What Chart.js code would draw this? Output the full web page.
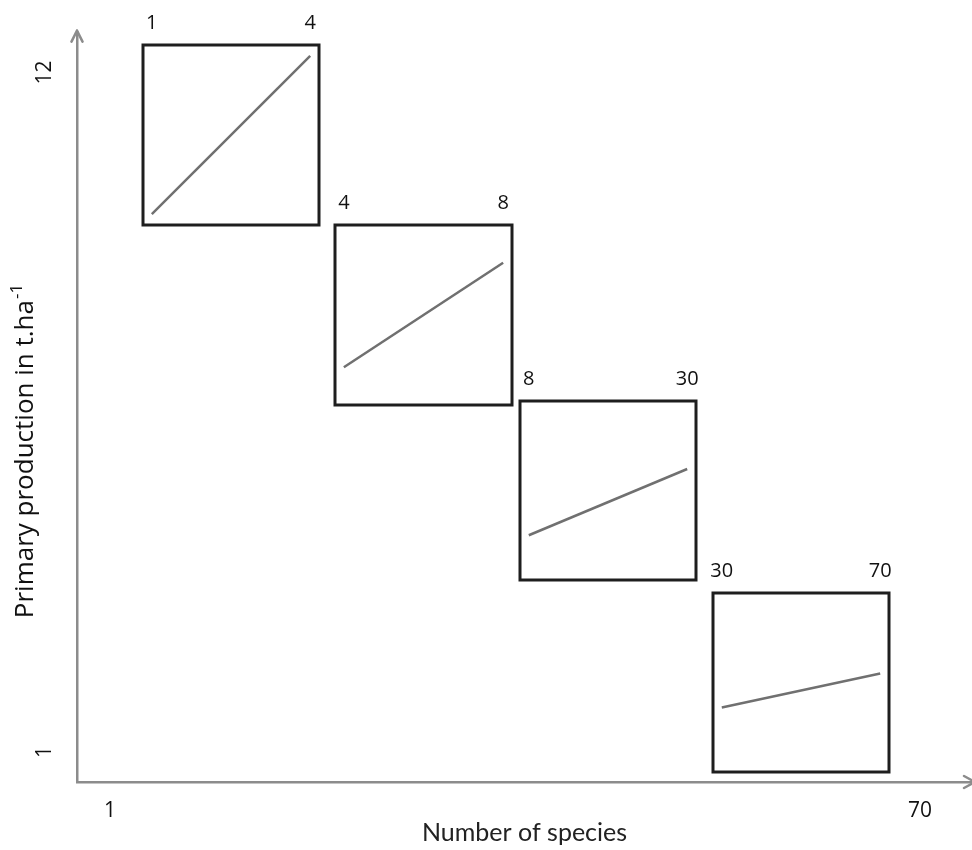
<!DOCTYPE html>
<html>
<head>
<meta charset="utf-8">
<script src="https://cdn.jsdelivr.net/npm/chart.js@4.4.1/dist/chart.umd.min.js"></script>
<style>
  html, body { margin: 0; padding: 0; background: #fff; }
  #wrap { position: relative; width: 972px; height: 850px; overflow: hidden; }
  #main { position: absolute; left: 0; top: 0; }
  .inset { position: absolute; }
</style>
</head>
<body>
<div id="wrap">
  <canvas id="main" width="972" height="850"></canvas>
</div>
<script>
// species-richness ranges shown in each inset box
const speciesFrom = [1, 4, 8, 30];
const speciesTo = [4, 8, 30, 70];
// production inside each box, relative to box height (0 = bottom, 1 = top)
const prodFrom = [0.06, 0.21, 0.25, 0.36];
const prodTo = [0.94, 0.79, 0.62, 0.55];
// main axis tick labels
const xTickValues = [1, 70];
const yTickValues = [1, 12];

// where the inset boxes sit on the page
const boxes = [
  { left: 143, top: 45, w: 176, h: 180 },
  { left: 335, top: 225, w: 177, h: 180 },
  { left: 520, top: 401, w: 176, h: 179 },
  { left: 713, top: 593, w: 176, h: 179 }
];

const axisColor = '#8c8c8c';
const textColor = '#111';

const axisDecor = {
  id: 'axisDecor',
  afterDraw(chart) {
    const { ctx, chartArea: a } = chart;
    ctx.save();
    ctx.strokeStyle = axisColor;
    ctx.lineWidth = 2.5;
    ctx.lineCap = 'round';
    ctx.lineJoin = 'round';
    // arrow heads
    ctx.beginPath();
    ctx.moveTo(a.left, a.top + 2);
    ctx.lineTo(a.left, a.top - 2);
    ctx.moveTo(a.left - 5.5, a.top + 9);
    ctx.lineTo(a.left, a.top - 2);
    ctx.lineTo(a.left + 5.5, a.top + 9);
    ctx.moveTo(a.right - 8, a.bottom - 6);
    ctx.lineTo(a.right + 3, a.bottom);
    ctx.lineTo(a.right - 8, a.bottom + 6);
    ctx.stroke();

    // y title with superscript
    ctx.translate(33, 451);
    ctx.rotate(-Math.PI / 2);
    ctx.fillStyle = textColor;
    ctx.textBaseline = 'alphabetic';
    const main = 'Primary production in t.ha';
    const sup = '-1';
    ctx.font = '26px "Open Sans"';
    const w1 = ctx.measureText(main).width;
    ctx.font = '17px "Open Sans"';
    const w2 = ctx.measureText(sup).width;
    const start = -(w1 + w2 + 1) / 2;
    ctx.font = '26px "Open Sans"';
    ctx.fillText(main, start, 0);
    ctx.font = '17px "Open Sans"';
    ctx.fillText(sup, start + w1 + 1, -11);
    ctx.restore();
  }
};

new Chart(document.getElementById('main'), {
  type: 'scatter',
  data: { datasets: [] },
  options: {
    responsive: false,
    animation: false,
    layout: { padding: { top: 30, right: 0, left: 0, bottom: 0 } },
    plugins: { legend: { display: false }, tooltip: { enabled: false } },
    scales: {
      x: {
        type: 'linear',
        min: -1.81,
        max: 74.43,
        afterBuildTicks: s => { s.ticks = xTickValues.map(v => ({ value: v })); },
        afterFit: s => { s.height = 68; },
        grid: { display: false, drawTicks: false },
        border: { color: axisColor, width: 2.5 },
        ticks: { color: textColor, font: { family: 'Open Sans', size: 21 }, padding: 16, maxRotation: 0, autoSkip: false },
        title: {
          display: true,
          text: 'Number of species',
          color: '#222',
          font: { family: 'Lato', size: 25 },
          padding: { top: 0, bottom: 2 }
        }
      },
      y: {
        type: 'linear',
        min: 0.516,
        max: 12.645,
        afterBuildTicks: s => { s.ticks = yTickValues.map(v => ({ value: v })); },
        afterFit: s => { s.width = 77; },
        grid: { display: false, drawTicks: false },
        border: { color: axisColor, width: 2.5 },
        ticks: {
          color: textColor,
          font: { family: 'Open Sans', size: 21 },
          padding: 20,
          minRotation: 90,
          maxRotation: 90,
          crossAlign: 'center',
          autoSkip: false
        }
      }
    }
  },
  plugins: [axisDecor]
});

const frame = {
  id: 'frame',
  afterDraw(chart) {
    const { ctx, chartArea: a } = chart;
    ctx.save();
    ctx.strokeStyle = '#1e1e1e';
    ctx.lineWidth = 3;
    ctx.strokeRect(a.left, a.top, a.right - a.left, a.bottom - a.top);
    ctx.restore();
  }
};

const wrap = document.getElementById('wrap');
const PAD = 20, TOP = 34;

boxes.forEach((b, i) => {
  const canvas = document.createElement('canvas');
  canvas.width = b.w + 2 * PAD;
  canvas.height = b.h + TOP + PAD;
  canvas.className = 'inset';
  canvas.style.left = (b.left - PAD) + 'px';
  canvas.style.top = (b.top - TOP) + 'px';
  wrap.appendChild(canvas);

  const lo = speciesFrom[i], hi = speciesTo[i];
  const inner = 0.05;
  const span = (hi - lo) / (1 - 2 * inner);

  new Chart(canvas, {
    type: 'line',
    data: {
      datasets: [{
        data: [{ x: lo, y: prodFrom[i] }, { x: hi, y: prodTo[i] }],
        borderColor: '#707070',
        borderWidth: 2.5,
        pointRadius: 0,
        fill: false
      }]
    },
    options: {
      responsive: false,
      animation: false,
      layout: { padding: { left: PAD, right: PAD, bottom: PAD, top: 0 } },
      plugins: { legend: { display: false }, tooltip: { enabled: false } },
      scales: {
        x: {
          type: 'linear',
          position: 'top',
          min: lo - inner * span,
          max: hi + inner * span,
          afterBuildTicks: s => { s.ticks = [{ value: lo }, { value: hi }]; },
          afterFit: s => { s.height = TOP; },
          grid: { display: false, drawTicks: false },
          border: { display: false },
          ticks: { color: textColor, font: { family: 'Open Sans', size: 20 }, padding: 10, maxRotation: 0, autoSkip: false }
        },
        y: { display: false, min: 0, max: 1 }
      }
    },
    plugins: [frame]
  });
});
</script>
</body>
</html>
